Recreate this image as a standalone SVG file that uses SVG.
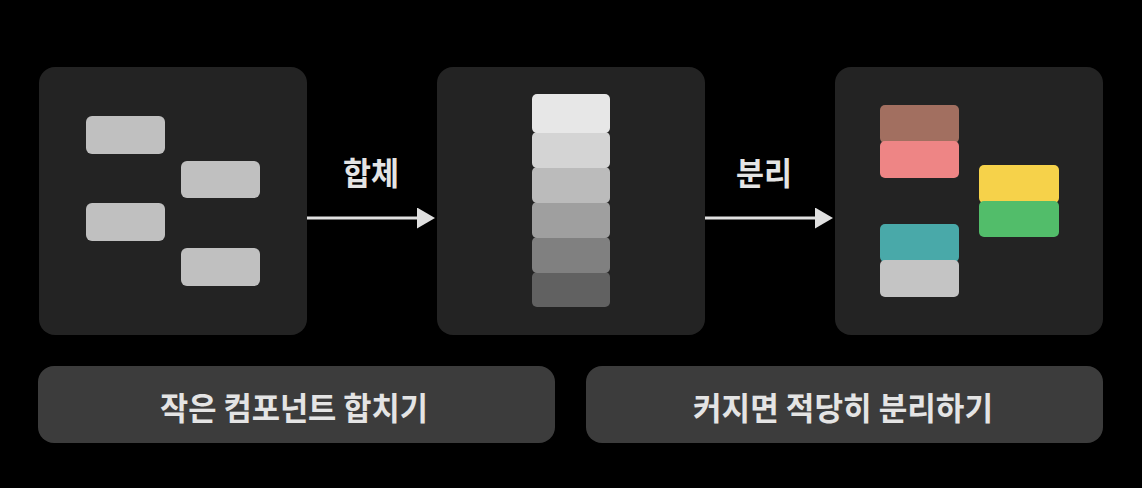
<svg xmlns="http://www.w3.org/2000/svg" width="1142" height="488" viewBox="0 0 1142 488">
  <defs>
    <style>
      .panel { fill: #232323; }
      .bar { fill: #3c3c3c; }
      .blk { stroke: none; }
      .lbl { font-family: "Noto Sans CJK KR", "Noto Sans", sans-serif; font-weight: 700; fill: #e4e4e4; font-size: 32px; }
      .conn { stroke: #e0e0e0; stroke-width: 3; fill: none; }
    </style>
    <marker id="arrow" markerWidth="7" markerHeight="8" refX="2.67" refY="3.5" orient="auto" markerUnits="strokeWidth">
      <path d="M0,0 L6,3.5 L0,7 Z" fill="#e0e0e0"/>
    </marker>
  </defs>
  <rect width="1142" height="488" fill="#000"/>

  <g id="panel-scattered">
    <rect class="panel" x="39" y="67" width="268" height="268" rx="16"/>
    <rect class="blk" x="86" y="116" width="79" height="38" rx="6" fill="#c0c0c0"/>
    <rect class="blk" x="181" y="161" width="79" height="37" rx="6" fill="#c0c0c0"/>
    <rect class="blk" x="86" y="203" width="79" height="38" rx="6" fill="#c0c0c0"/>
    <rect class="blk" x="181" y="248" width="79" height="38" rx="6" fill="#c0c0c0"/>
  </g>

  <g id="panel-merged">
    <rect class="panel" x="437" y="67" width="268" height="268" rx="16"/>
    <rect class="blk" x="532" y="272" width="78" height="35" rx="5" fill="#616161"/>
    <rect class="blk" x="532" y="237" width="78" height="36" rx="5" fill="#808080"/>
    <rect class="blk" x="532" y="202" width="78" height="36" rx="5" fill="#9f9f9f"/>
    <rect class="blk" x="532" y="167" width="78" height="36" rx="5" fill="#bbbbbb"/>
    <rect class="blk" x="532" y="132" width="78" height="36" rx="5" fill="#d4d4d4"/>
    <rect class="blk" x="532" y="94" width="78" height="39" rx="5" fill="#e7e7e7"/>
  </g>

  <g id="panel-split">
    <rect class="panel" x="835" y="67" width="268" height="268" rx="16"/>
    <rect class="blk" x="880" y="105" width="79" height="38" rx="5" fill="#a26f60"/>
    <rect class="blk" x="880" y="141" width="79" height="37" rx="5" fill="#ee8585"/>
    <rect class="blk" x="979" y="165" width="80" height="38" rx="5" fill="#f6d24a"/>
    <rect class="blk" x="979" y="201" width="80" height="36" rx="5" fill="#52bd6a"/>
    <rect class="blk" x="880" y="224" width="79" height="38" rx="5" fill="#49a9a9"/>
    <rect class="blk" x="880" y="260" width="79" height="37" rx="5" fill="#c4c4c4"/>
  </g>

  <g id="connectors">
    <line class="conn" x1="307" y1="218" x2="425" y2="218" marker-end="url(#arrow)"/>
    <line class="conn" x1="705" y1="218" x2="823" y2="218" marker-end="url(#arrow)"/>
    <text class="lbl" x="371" y="185" text-anchor="middle" textLength="56" lengthAdjust="spacingAndGlyphs">합체</text>
    <text class="lbl" x="764" y="185" text-anchor="middle" textLength="56" lengthAdjust="spacingAndGlyphs">분리</text>
  </g>

  <g id="caption-merge">
    <rect class="bar" x="38" y="366" width="517" height="77" rx="16"/>
    <text class="lbl" x="294" y="420" text-anchor="middle" textLength="268" lengthAdjust="spacingAndGlyphs">작은 컴포넌트 합치기</text>
  </g>

  <g id="caption-split">
    <rect class="bar" x="586" y="366" width="517" height="77" rx="16"/>
    <text class="lbl" x="843" y="420" text-anchor="middle" textLength="300" lengthAdjust="spacingAndGlyphs">커지면 적당히 분리하기</text>
  </g>
</svg>
